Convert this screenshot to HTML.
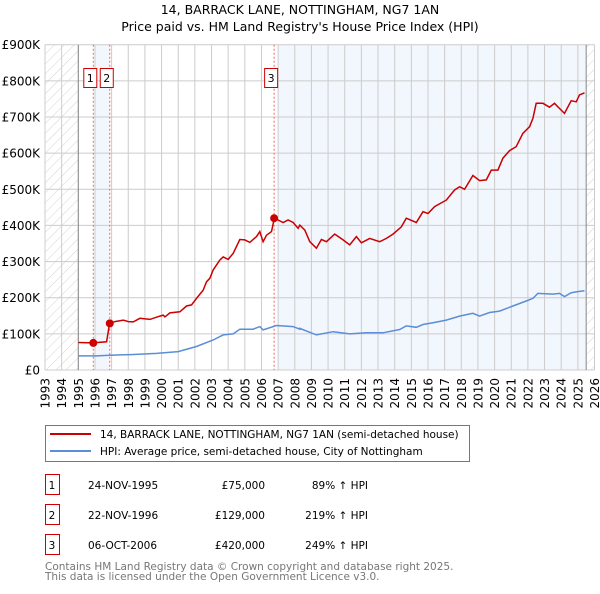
<!DOCTYPE html>
<html><head><meta charset="utf-8">
<style>
body{margin:0;background:#fff;width:600px;height:590px;overflow:hidden;font-family:"DejaVu Sans","Liberation Sans",sans-serif}
svg text{font-family:"DejaVu Sans","Liberation Sans",sans-serif}
</style></head><body>
<svg id="chart" width="600" height="590" xmlns="http://www.w3.org/2000/svg">
<defs>
<pattern id="hatch" width="7" height="7" patternUnits="userSpaceOnUse" patternTransform="rotate(45)">
<line x1="0" y1="0" x2="0" y2="7" stroke="#c8c8c8" stroke-width="0.8"/></pattern>
</defs>
<text x="300" y="14" text-anchor="middle" font-size="12.5" fill="#000">14, BARRACK LANE, NOTTINGHAM, NG7 1AN</text>
<text x="300" y="31" text-anchor="middle" font-size="12.5" fill="#000">Price paid vs. HM Land Registry's House Price Index (HPI)</text>
<g id="plot"></g>
<g>
<rect x="45.5" y="425.5" width="424" height="36" fill="#fff" stroke="#777"/>
<line x1="50" y1="434" x2="91" y2="434" stroke="#cc0000" stroke-width="2"/>
<text x="100" y="438" font-size="10.5">14, BARRACK LANE, NOTTINGHAM, NG7 1AN (semi-detached house)</text>
<line x1="50" y1="451" x2="91" y2="451" stroke="#5b8ed6" stroke-width="2"/>
<text x="100" y="455" font-size="10.5">HPI: Average price, semi-detached house, City of Nottingham</text>
</g>
<g id="table" font-size="10.5"></g>
<text x="45" y="570" font-size="10.5" fill="#777">Contains HM Land Registry data © Crown copyright and database right 2025.</text>
<text x="45" y="580" font-size="10.5" fill="#777">This data is licensed under the Open Government Licence v3.0.</text>
</svg>
<script>
const yearTicks=[1993,1994,1995,1996,1997,1998,1999,2000,2001,2002,2003,2004,2005,2006,2007,2008,2009,2010,2011,2012,2013,2014,2015,2016,2017,2018,2019,2020,2021,2022,2023,2024,2025,2026];
const valueTicks=[0,100,200,300,400,500,600,700,800,900];
const valueLabels=["£0","£100K","£200K","£300K","£400K","£500K","£600K","£700K","£800K","£900K"];
const redYears=[1995,1995.86,1996.7,1996.88,1997.2,1997.7,1998,1998.3,1998.7,1999.3,1999.9,2000.1,2000.2,2000.5,2001.1,2001.5,2001.8,2002.1,2002.5,2002.7,2002.9,2003.1,2003.5,2003.7,2004,2004.3,2004.7,2005,2005.3,2005.7,2005.9,2006.1,2006.3,2006.6,2006.77,2007,2007.3,2007.6,2007.9,2008.2,2008.3,2008.6,2008.9,2009.3,2009.6,2009.9,2010.4,2010.9,2011.3,2011.7,2012,2012.5,2013.1,2013.5,2013.9,2014.4,2014.7,2015.3,2015.7,2016,2016.4,2017.1,2017.6,2017.9,2018.2,2018.7,2019.1,2019.5,2019.8,2020.2,2020.5,2020.9,2021.3,2021.7,2022.1,2022.3,2022.5,2022.9,2023.3,2023.6,2023.8,2024.2,2024.6,2024.9,2025.1,2025.4];
const redValues=[76,75,78,129,134,138,134,133,143,140,149,152,147,158,161,177,180,198,221,244,254,277,304,313,306,323,361,360,353,369,383,355,373,383,420,415,408,415,408,392,401,387,355,337,361,355,376,360,346,369,352,364,355,364,376,396,420,408,438,433,452,470,498,507,500,538,524,526,553,553,586,607,618,655,673,696,738,738,727,738,728,710,745,742,761,767];
const blueYears=[1995,1996.1,1996.9,1998.3,1999.7,2001,2002.1,2003.1,2003.7,2004.3,2004.7,2005.5,2005.9,2006.1,2006.9,2007.9,2008.3,2008.3,2009.3,2010.3,2011.3,2012.3,2013.3,2014.3,2014.7,2015.3,2015.7,2016.3,2017.1,2017.9,2018.7,2019.1,2019.7,2020.3,2021.1,2021.9,2022.3,2022.6,2023.5,2023.9,2024.2,2024.6,2025,2025.4];
const blueValues=[39,39,41,43,46,51,65,83,97,100,113,113,120,111,123,120,113,115,97,106,100,103,103,112,122,118,126,131,138,149,157,149,159,163,177,191,198,212,210,212,203,214,217,219];
const saleYears=[1995.9,1996.89,2006.76];
const saleValues=[75,129,420];
const saleLabels=["1","2","3"];
const saleDates=["24-NOV-1995","22-NOV-1996","06-OCT-2006"];
const salePrices=["£75,000","£129,000","£420,000"];
const saleHpi=["89% ↑ HPI","219% ↑ HPI","249% ↑ HPI"];

const X0=45,X1=594.5,Y0=370,YT=44.7;
const xs=y=>X0+(y-1993)/(2026-1993)*(X1-X0);
const ys=v=>Y0-v/900*(Y0-YT);
const NS="http://www.w3.org/2000/svg";
const plot=document.getElementById('plot');
function mk(tag,attrs,parent){const e=document.createElementNS(NS,tag);for(const k in attrs)e.setAttribute(k,attrs[k]);(parent||plot).appendChild(e);return e;}

let r;
r=mk('rect',{x:X0,y:YT,width:X1-X0,height:Y0-YT,fill:'#fff'});


r=mk('rect',{x:xs(1993),y:YT,width:xs(1995)-xs(1993),height:Y0-YT,fill:'url(#hatch)'});


r=mk('rect',{x:xs(2025.5),y:YT,width:X1-xs(2025.5),height:Y0-YT,fill:'url(#hatch)'});


r=mk('rect',{x:xs(1996),y:YT,width:xs(saleYears[1])-xs(1996),height:Y0-YT,fill:'#f2f6fd'});


r=mk('rect',{x:xs(2007),y:YT,width:xs(2025.5)-xs(2007),height:Y0-YT,fill:'#f2f6fd'});



valueTicks.forEach((v,i)=>{
 const l=mk('line',{x1:X0,x2:X1,y1:ys(v),y2:ys(v),stroke:'#cccccc','stroke-width':1});
 
 
 const t=mk('text',{x:40,y:ys(v)+4.5,'text-anchor':'end','font-size':12});
 t.textContent=valueLabels[i];
 
 
});
yearTicks.forEach(y=>{
 const l=mk('line',{x1:xs(y),x2:xs(y),y1:YT,y2:Y0,stroke:'#cccccc','stroke-width':1});
 
 
 const t=mk('text',{x:xs(y)+4.5,y:378,'text-anchor':'end','font-size':12,transform:`rotate(-90 ${xs(y)+4.5} 378)`});
 t.textContent=y;
 
 
});
r=mk('line',{x1:xs(1995),x2:xs(1995),y1:YT,y2:Y0,stroke:'#888'});


r=mk('line',{x1:xs(2025.5),x2:xs(2025.5),y1:YT,y2:Y0,stroke:'#888'});



saleYears.forEach((y,i)=>{
 const l=mk('line',{x1:xs(y),x2:xs(y),y1:YT,y2:Y0,stroke:'#ee6666','stroke-dasharray':'2,2','stroke-width':1});
 
 
 const bx=xs(y)-(i==0?3:i==1?3:3);
 const b=mk('rect',{x:bx-6.5,y:68.5,width:13,height:19,fill:'#fff',stroke:'#cc0000'});
 
 
 const t=mk('text',{x:bx,y:82,'text-anchor':'middle','font-size':11});
 t.textContent=saleLabels[i];
 
 
});

const pts=(a,b)=>a.map((y,i)=>xs(y).toFixed(1)+','+ys(b[i]).toFixed(1)).join(' ');
r=mk('polyline',{points:pts(blueYears,blueValues),fill:'none',stroke:'#5b8ed6','stroke-width':1.5});


r=mk('polyline',{points:pts(redYears,redValues),fill:'none',stroke:'#cc0000','stroke-width':1.5});


saleYears.forEach((y,i)=>{
 const c=mk('circle',{cx:xs(y),cy:ys(saleValues[i]),r:4,fill:'#cc0000'});
 
 
});

const tb=document.getElementById('table');
saleLabels.forEach((s,i)=>{
 const y=485+i*30;
 const b=mk('rect',{x:45.5,y:y-10.5,width:14,height:20,fill:'#fff',stroke:'#cc0000'},tb);
 
 
 const cells=[[52,s,'middle'],[88,saleDates[i],'start'],[265,salePrices[i],'end'],[368,saleHpi[i],'end']];
 cells.forEach(c=>{
  const t=mk('text',{x:c[0],y:y+4,'text-anchor':c[2],'font-size':10.5},tb);
  t.textContent=c[1];
  
  
 });
});
</script>
</body></html>
